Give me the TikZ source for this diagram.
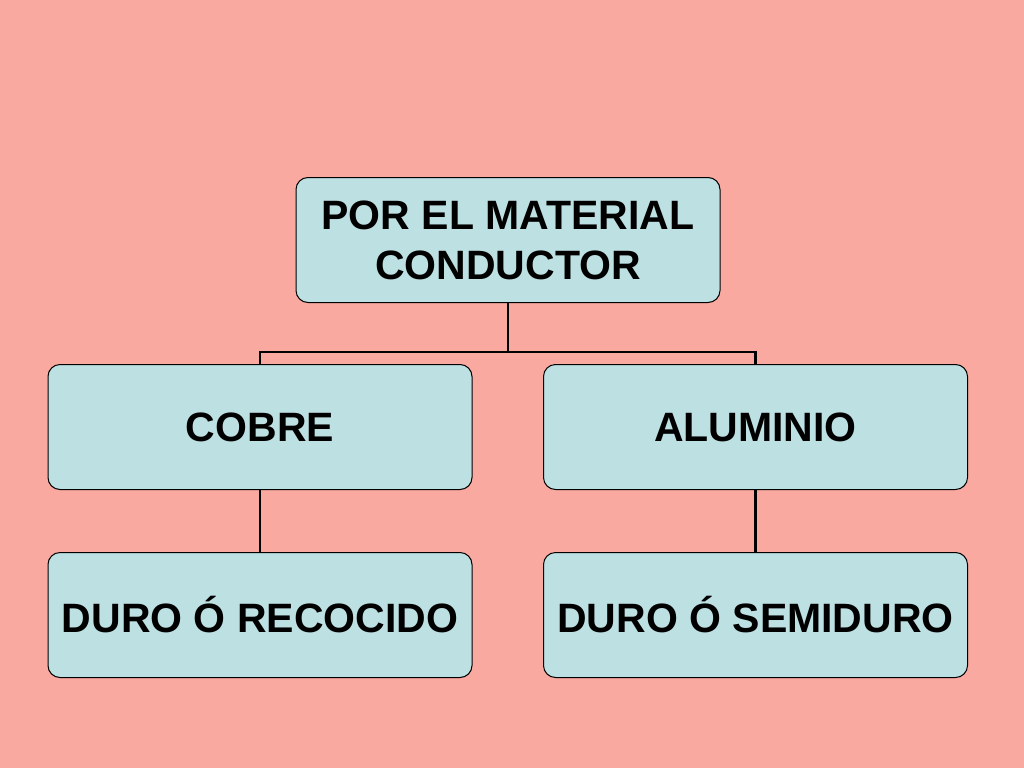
\documentclass[tikz,border=0pt]{standalone}
\usepackage{fontspec}
\setmainfont{Liberation Sans}
\definecolor{bg}{HTML}{F9A9A0}
\definecolor{boxc}{HTML}{BDE0E3}
\begin{document}
\begin{tikzpicture}[x=1pt,y=-1pt,
  box/.style={draw=black,line width=1pt,fill=boxc,rounded corners=12pt,minimum width=424pt,minimum height=125pt,align=center,font=\fontsize{41}{50}\selectfont\bfseries,inner sep=0pt},
  conn/.style={line width=2.5pt}]
\fill[bg] (0,0) rectangle (1024,768);
\useasboundingbox (0,0) rectangle (1024,768);
\node[box] (top) at (508,240) {POR EL MATERIAL\\CONDUCTOR};
\node[box] (cobre) at (260,427) {COBRE};
\node[box] (alu) at (755.5,427) {ALUMINIO};
\node[box] (duro1) at (260,615) {DURO Ó RECOCIDO};
\node[box] (duro2) at (755.5,615) {DURO Ó SEMIDURO};
\coordinate (mid) at (508,352);
\draw[conn] (top.south) -- (mid);
\draw[conn] (cobre.north) -- (cobre.north |- mid) -- (alu.north |- mid) -- (alu.north);
\draw[conn] (cobre.south) -- (duro1.north);
\draw[conn] (alu.south) -- (duro2.north);
\end{tikzpicture}
\end{document}
